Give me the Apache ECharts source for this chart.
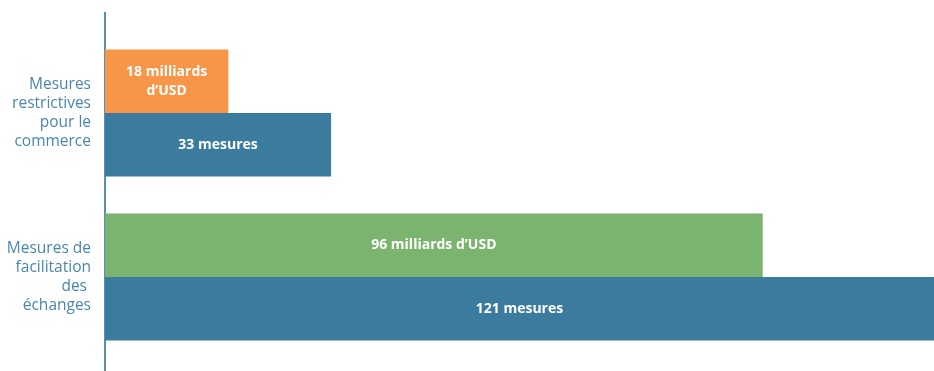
<!DOCTYPE html>
<html>
<head>
<meta charset="utf-8">
<script src="https://cdn.jsdelivr.net/npm/echarts@6/dist/echarts.min.js"></script>
<style>html,body{margin:0;padding:0;background:#fff;}#c{width:934px;height:371px;}</style>
</head>
<body>
<div id="c"></div>
<script>
const categories = ['Mesures\nrestrictives\npour le\ncommerce', 'Mesures de\nfacilitation\ndes \néchanges'];
const usdValues = [18, 96];
const usdLabels = ['18 milliards\nd’USD', '96 milliards d’USD'];
const usdColors = ['#F79648', '#7AB46E'];
const mesuresValues = [33, 121];
const mesuresLabels = ['33 mesures', '121 mesures'];

const chart = echarts.init(document.getElementById('c'), null, {renderer: 'canvas'});
const FONT = 'Open Sans';
chart.setOption({
  animation: false,
  grid: {left: 105, right: 0, top: 31, bottom: 12},
  xAxis: {type: 'value', min: 0, max: 121, show: false},
  yAxis: {
    type: 'category', data: categories, inverse: true,
    axisLine: {show: false}, axisTick: {show: false},
    axisLabel: {color: '#4A87B0', fontFamily: FONT, fontSize: 15.5, lineHeight: 19, margin: 14, align: 'right'}
  },
  graphic: [{type: 'line', shape: {x1: 105, y1: 12, x2: 105, y2: 371}, style: {stroke: '#5B8DB5', lineWidth: 2}}],
  series: [
    {
      type: 'bar', barWidth: 63.5, barGap: '0%',
      data: usdValues.map((v, i) => ({value: v, itemStyle: {color: usdColors[i]}, label: {formatter: usdLabels[i]}})),
      label: {show: true, position: 'inside', color: '#fff', fontWeight: 700, fontFamily: FONT, fontSize: 14, lineHeight: 19}
    },
    {
      type: 'bar', barWidth: 63.5, barGap: '0%',
      data: mesuresValues.map((v, i) => ({value: v, label: {formatter: mesuresLabels[i]}})),
      itemStyle: {color: '#3B7B9E'},
      label: {show: true, position: 'inside', color: '#fff', fontWeight: 700, fontFamily: FONT, fontSize: 14}
    }
  ]
});
</script>
</body>
</html>
